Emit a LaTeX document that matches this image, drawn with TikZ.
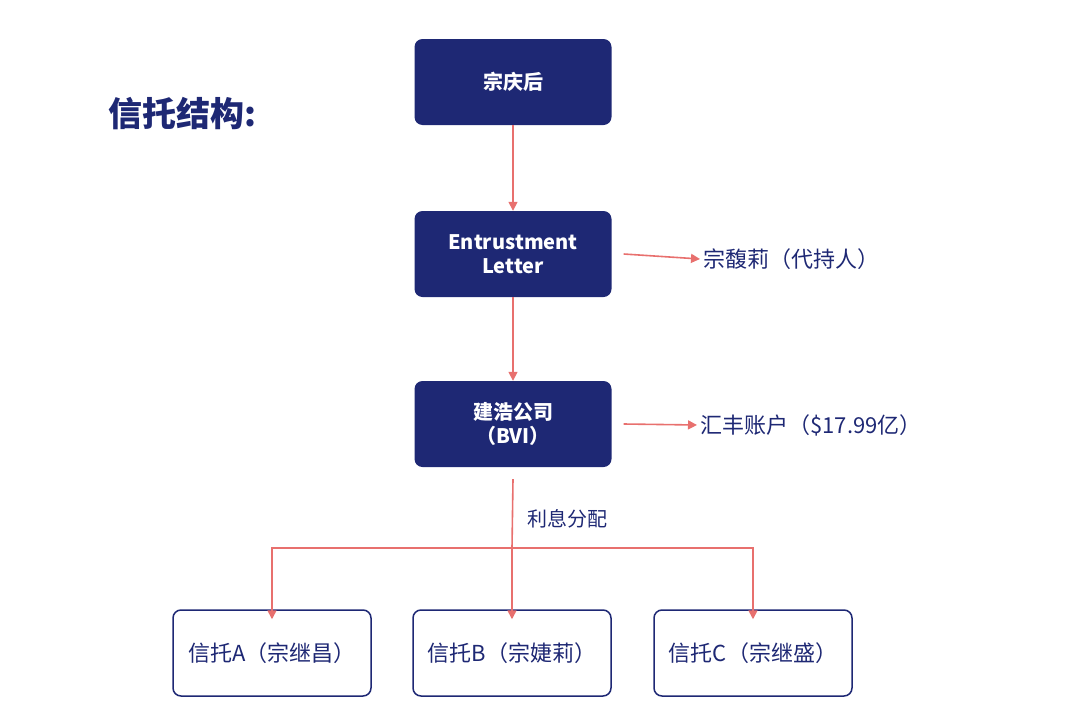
\documentclass[tikz,border=0pt]{standalone}
\usepackage{fontspec}
\setmainfont{Noto Sans CJK SC}
\usetikzlibrary{positioning,arrows.meta}
\definecolor{navy}{HTML}{1E2874}
\definecolor{arrowred}{HTML}{E8706E}
\begin{document}
\begin{tikzpicture}[x=1pt,y=-1pt]
\tikzstyle{topblock} = [rectangle, fill=navy, text=white, font=\fontsize{20}{24}\selectfont\bfseries, align=center, rounded corners=8pt, minimum width=197pt, minimum height=86pt]
\tikzstyle{trustblock} = [rectangle, draw=navy, line width=1.5pt, fill=white, text=navy, font=\fontsize{22}{26}\selectfont, rounded corners=8pt, minimum width=198pt, minimum height=86pt]
\tikzstyle{arr} = [draw=arrowred, line width=1.6pt, -{Triangle[length=9pt,width=9pt]}]
\tikzstyle{side} = [text=navy, font=\fontsize{22}{26}\selectfont, anchor=west]
\useasboundingbox (0,0) rectangle (1080,726);

% Title
\node [text=navy, font=\fontsize{34}{40}\selectfont\bfseries, anchor=west] (title) at (105,114) {信托结构:};

% Main chain
\node [topblock] (founder) at (513,82) {宗庆后};
\node [topblock] (letter) at (513,254) {Entrustment\\Letter};
\node [topblock] (company) at (513,424) {建浩公司\\（BVI）};
\draw [arr] (founder) -- (letter);
\draw [arr] (letter) -- (company);

% Side notes
\node [side] (holder) at (700,259) {宗馥莉（代持人）};
\node [side] (account) at (697,425) {汇丰账户（\$17.99亿）};
\draw [arr] (letter.east) ++(12,0) -- (holder.west);
\draw [arr] (company.east) ++(12,0) -- (account.west);

% Trusts
\node [trustblock] (trustA) at (272,653) {信托A（宗继昌）};
\node [trustblock] (trustB) at (512,653) {信托B（宗婕莉）};
\node [trustblock] (trustC) at (753,653) {信托C（宗继盛）};
\coordinate (split) at (512,548);
\draw [draw=arrowred, line width=1.6pt] (company.south) ++(0,12) -- (split);
\node [text=navy, font=\fontsize{20}{24}\selectfont, anchor=west] (share) at (524,519) {利息分配};
\draw [arr] (split) -| ([yshift=-10pt]trustA.north);
\draw [arr] (split) -| ([yshift=-10pt]trustC.north);
\draw [arr] (split) -- ([yshift=-10pt]trustB.north);
\end{tikzpicture}
\end{document}
